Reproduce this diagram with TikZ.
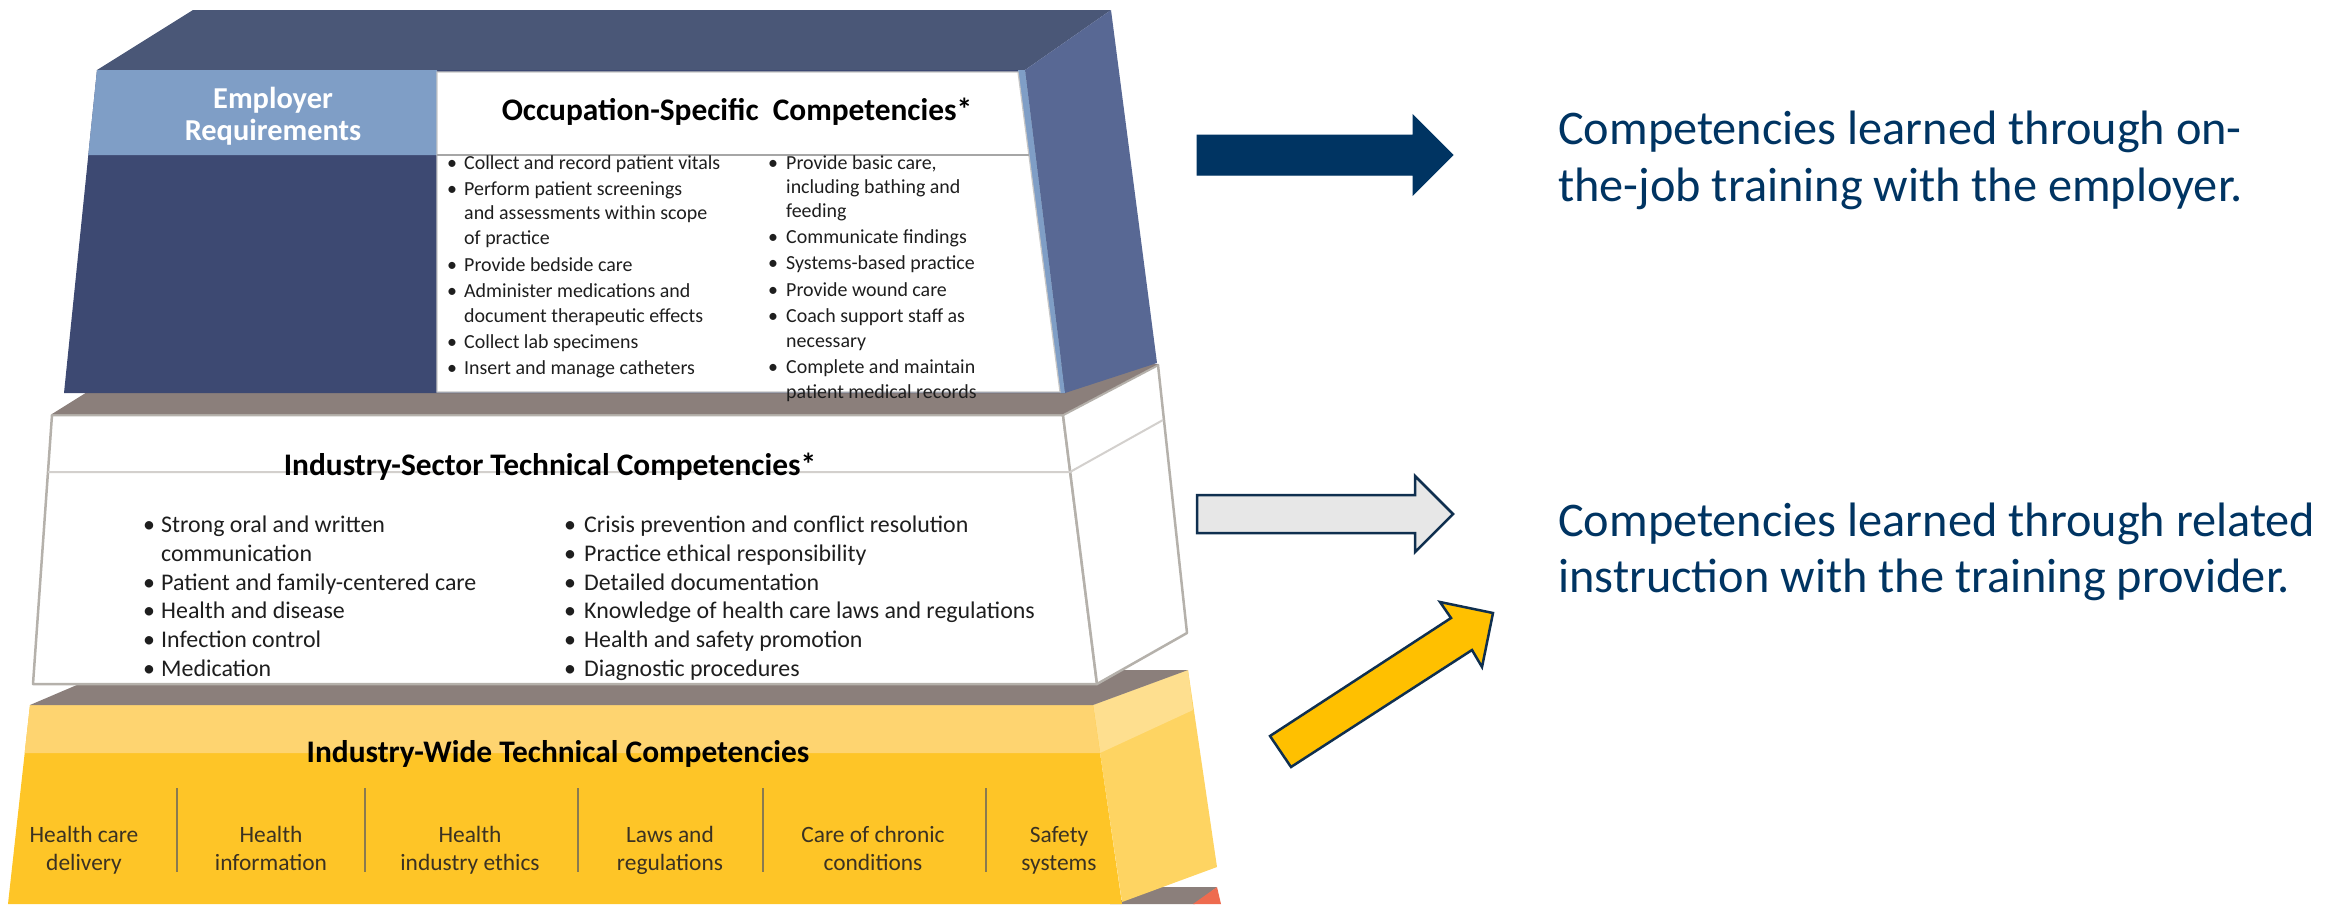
\documentclass[tikz,border=0pt]{standalone}
\usepackage{fontspec}
\setmainfont{Carlito}
\definecolor{topface}{HTML}{4A5777}
\definecolor{frontdark}{HTML}{3D4972}
\definecolor{sideblue}{HTML}{586894}
\definecolor{empblue}{HTML}{7F9EC6}
\definecolor{taupe}{HTML}{8B7F7B}
\definecolor{outl}{HTML}{B5B1AB}
\definecolor{ylight}{HTML}{FED470}
\definecolor{ygold}{HTML}{FEC527}
\definecolor{yside}{HTML}{FED462}
\definecolor{ysidetop}{HTML}{FEDF8F}
\definecolor{redb}{HTML}{EE6B4F}
\definecolor{navy}{HTML}{003462}
\definecolor{arrline}{HTML}{0F2F4F}
\definecolor{lgray}{HTML}{E7E7E7}
\definecolor{arrgold}{HTML}{FFC000}
\definecolor{txt}{HTML}{1E1E1E}
\definecolor{coltxt}{HTML}{3B3222}
\definecolor{divcol}{HTML}{8A7A50}
\begin{document}
\begin{tikzpicture}[x=1bp,y=-1bp,
  title/.style={font=\fontsize{31.5}{36}\selectfont\bfseries, text=black, inner sep=0pt, anchor=base},
  emp/.style={font=\fontsize{30.5}{33}\selectfont\bfseries, text=white, inner sep=0pt, anchor=base},
  lstA/.style={font=\fontsize{20}{24}\selectfont, text=txt, inner sep=0pt, anchor=base west},
  bulA/.style={font=\fontsize{20}{24}\selectfont, text=txt, inner sep=0pt, anchor=base},
  lstB/.style={font=\fontsize{24}{28}\selectfont, text=txt, inner sep=0pt, anchor=base west},
  bulB/.style={font=\fontsize{24}{28}\selectfont, text=txt, inner sep=0pt, anchor=base},
  col/.style={font=\fontsize{23.5}{28}\selectfont, text=coltxt, inner sep=0pt, anchor=base},
  side/.style={font=\fontsize{48.5}{57}\selectfont, text=navy, inner sep=0pt, anchor=base west},
  blockline/.style={draw=outl, line width=2.5bp, line join=round},
  arrowshape/.style={draw=arrline, line width=2.5bp, line join=miter}
]
\useasboundingbox (0,0) rectangle (2341,904);

% ---- red block peeking at bottom
\fill[taupe] (1110,904) -- (1160,887) -- (1217,887) -- (1195,904) -- cycle;
\fill[redb] (1193,904) -- (1217,887) -- (1221,904) -- cycle;

% ---- yellow block
\fill[yside] (1093,705) -- (1188,670) -- (1217,867) -- (1122,902) -- cycle;
\fill[ysidetop] (1093,705) -- (1188,670) -- (1193,710) -- (1100,753) -- cycle;
\fill[ygold] (30,705) -- (1093,705) -- (1122,904) -- (8,904) -- cycle;
\fill[ylight] (30,705) -- (1093,705) -- (1100,753) -- (24.7,753) -- cycle;
\fill[taupe] (30,705) -- (1093,705) -- (1188,670) -- (112,670) -- cycle;

% ---- middle (white) block
\filldraw[fill=white, blockline] (52,415) -- (1063,415) -- (1097,684) -- (33,684) -- cycle;
\filldraw[fill=white, blockline] (1063,415) -- (1158,365) -- (1187,633) -- (1097,684) -- cycle;
\draw[draw=outl!60, line width=2bp] (48,472) -- (1070,472) -- (1163,420);
\fill[taupe] (52,414) -- (1063,414) -- (1158,364) -- (132,364) -- cycle;

% ---- top (blue) block
\fill[topface] (97,70) -- (193,10) -- (1111,10) -- (1025,70) -- cycle;
\fill[sideblue] (1025,70) -- (1111,10) -- (1157,363) -- (1065,393) -- cycle;
\fill[frontdark] (97,70) -- (1025,70) -- (1065,393) -- (64,393) -- cycle;
\fill[empblue] (97,70) -- (437,70) -- (437,155) -- (88.3,155) -- cycle;
\fill[empblue] (1018,70) -- (1025,70) -- (1065,393) -- (1060,393) -- cycle;
\filldraw[fill=white, draw=gray!45, line width=1.2bp] (437,72) -- (1018,72) -- (1060,392) -- (437,392) -- cycle;
\draw[gray!70, line width=1.5bp] (437,155) -- (1028.5,155);

% ---- titles
\node[emp] (emp1) at (273,108) {Employer};
\node[emp] (emp2) at (273,140) {Requirements};
\node[title] (occ) at (737,120) {Occupation-Specific\ \ Competencies*};
\node[title] (sec) at (550,475) {Industry-Sector Technical Competencies*};
\node[title] (wide) at (558,762) {Industry-Wide Technical Competencies};

% ---- occupation lists
\foreach \yy/\lbl [count=\i] in {
  169/Collect and record patient vitals,
  195/Perform patient screenings,
  219/and assessments within scope,
  244/of practice,
  271/Provide bedside care,
  297/Administer medications and,
  322/document therapeutic effects,
  348/Collect lab specimens,
  374/Insert and manage catheters}
  \node[lstA] (ol\i) at (464,\yy) {\lbl};
\foreach \yy [count=\i] in {169,195,271,297,348,374}
  \node[bulA] (olb\i) at (452,\yy) {\textbullet};
\foreach \yy/\lbl [count=\i] in {
  169/{Provide basic care,},
  193/including bathing and,
  217/feeding,
  243/Communicate findings,
  269/Systems-based practice,
  296/Provide wound care,
  322/Coach support staff as,
  347/necessary,
  373/Complete and maintain,
  398/patient medical records}
  \node[lstA] (or\i) at (786,\yy) {\lbl};
\foreach \yy [count=\i] in {169,243,269,296,322,373}
  \node[bulA] (orb\i) at (773,\yy) {\textbullet};

% ---- sector lists
\foreach \yy/\lbl [count=\i] in {
  532.5/Strong oral and written,
  561/communication,
  590/Patient and family-centered care,
  618.5/Health and disease,
  647/Infection control,
  676/Medication}
  \node[lstB] (sl\i) at (161,\yy) {\lbl};
\foreach \yy [count=\i] in {532.5,590,618.5,647,676}
  \node[bulB] (slb\i) at (149,\yy) {\textbullet};
\foreach \yy/\lbl [count=\i] in {
  532.5/Crisis prevention and conflict resolution,
  561/Practice ethical responsibility,
  590/Detailed documentation,
  618.5/Knowledge of health care laws and regulations,
  647/Health and safety promotion,
  676/Diagnostic procedures}
  \node[lstB] (sr\i) at (584,\yy) {\lbl};
\foreach \yy [count=\i] in {532.5,561,590,618.5,647,676}
  \node[bulB] (srb\i) at (570,\yy) {\textbullet};

% ---- industry-wide columns
\foreach \xx in {177,365,578,763,986}
  \draw[divcol, line width=1.5bp] (\xx,788) -- (\xx,872);
\foreach \xx/\a/\b [count=\i] in {
  84/Health care/delivery,
  271/Health/information,
  470/Health/industry ethics,
  670/Laws and/regulations,
  873/Care of chronic/conditions,
  1059/Safety/systems}
  {\node[col] (ca\i) at (\xx,842.5) {\a};
   \node[col] (cb\i) at (\xx,870.5) {\b};}

% ---- arrows
\filldraw[fill=navy, draw=navy, line width=1bp] (1197,135) -- (1413,135) -- (1413,115) -- (1453,155) -- (1413,195) -- (1413,175) -- (1197,175) -- cycle;
\filldraw[fill=lgray, arrowshape] (1197,495) -- (1415,495) -- (1415,476) -- (1453,514) -- (1415,552) -- (1415,533) -- (1197,533) -- cycle;
\filldraw[fill=arrgold, arrowshape] (1270,736) -- (1451,618) -- (1440,602) -- (1493,613) -- (1482,667) -- (1472,650) -- (1291,767) -- cycle;

% ---- explanatory texts
\node[side] (t1a) at (1558,144) {Competencies learned through on-};
\node[side] (t1b) at (1558,201) {the-job training with the employer.};
\node[side] (t2a) at (1558,536) {Competencies learned through related};
\node[side] (t2b) at (1558,592) {instruction with the training provider.};
\end{tikzpicture}
\end{document}
